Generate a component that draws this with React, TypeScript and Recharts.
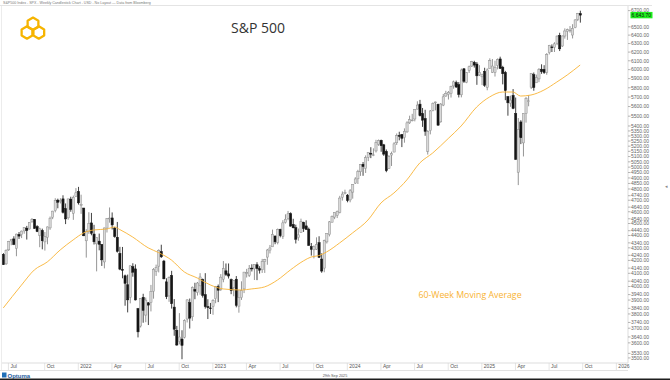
import React from 'react';
import { ComposedChart, Bar, Line, XAxis, YAxis } from 'recharts';

// ---- categories: weekly candles (Monday of each week), plus empty weeks to the right edge
const FIRST_WEEK = '2021-06-14';
const WEEK_COUNT = 242;
const weeks: string[] = Array.from({ length: WEEK_COUNT }, (_, i) =>
  new Date(Date.parse(FIRST_WEEK + 'T00:00:00Z') + i * 7 * 86400000).toISOString().slice(0, 10)
);

// ---- weekly OHLC (S&P 500)
const opens = [
  4248, 4173, 4284, 4356, 4372, 4296, 4409, 4407, 4438, 4461, 4454, 4514, 4535, 4474, 4402, 4442, 4348, 4385, 4463, 4553, 4610, 4701, 4689, 4712, 4628, 4548, 4710, 4587, 4733,
  4778, 4655, 4632, 4357, 4431, 4505, 4412, 4332, 4354, 4327, 4188, 4462, 4541, 4547, 4462, 4386, 4256, 4130, 4081, 4013, 3920, 4151, 4134, 3838, 3715, 3920, 3792, 3880, 3883, 3965, 4113, 4155, 4270, 4195, 4035, 3930, 4084, 3849, 3686, 3609, 3626, 3638, 3764, 3881, 3780, 3978, 3956, 4005, 4052, 3939, 3853, 3843,
  3853, 3910, 3999, 3978, 4055, 4119, 4096, 4052, 3992, 4055, 3856, 3917, 3982, 4103, 4085, 4140, 4134, 4166, 4136, 4127, 4190, 4226, 4282, 4308, 4396, 4344, 4450, 4394, 4508, 4543, 4584, 4492, 4465, 4382, 4426, 4510, 4480, 4453, 4310, 4284, 4289, 4342, 4211, 4140, 4348, 4407, 4511, 4554, 4569, 4594, 4726, 4758,
  4745, 4703, 4772, 4853, 4892, 4957, 5027, 4989, 5093, 5131, 5111, 5154, 5219, 5257, 5213, 5149, 4987, 5114, 5143, 5233, 5305, 5315, 5284, 5341, 5432, 5459, 5471, 5573, 5625, 5528, 5476, 5151, 5353, 5557, 5639, 5624, 5442, 5615, 5711, 5727, 5737, 5820, 5857, 5833, 5724, 6009, 5857, 5992, 6040, 6083, 6063, 5941, 5920,
  5982, 5805, 6014, 5969, 5970, 6047, 6121, 6027, 5968, 5705, 5636, 5718, 5527, 4953, 5441, 5232, 5529, 5655, 5807, 5944, 5854, 5897, 6005, 6004, 5970, 6193, 6260, 6255, 6304, 6395, 6271, 6389, 6445, 6457, 6401, 6490, 6590, 6662,
];
const highs = [
  4257, 4287, 4356, 4372, 4394, 4415, 4429, 4441, 4470, 4480, 4511, 4546, 4536, 4486, 4465, 4457, 4429, 4475, 4559, 4608, 4718, 4714, 4718, 4744, 4672, 4713, 4731, 4741, 4808,
  4819, 4749, 4633, 4453, 4596, 4590, 4489, 4385, 4416, 4330, 4465, 4546, 4637, 4594, 4471, 4513, 4308, 4307, 4090, 4090, 4159, 4178, 4169, 3843, 3914, 3946, 3918, 3886, 4012, 4140, 4167, 4288, 4325, 4204, 4062, 4076, 4119, 3907, 3716, 3806, 3686, 3762, 3906, 3911, 4001, 4028, 4034, 4101, 4060, 4101, 3906, 3879,
  3906, 4004, 4015, 4094, 4195, 4176, 4176, 4060, 4048, 4079, 3975, 4039, 4110, 4134, 4164, 4170, 4170, 4186, 4155, 4212, 4212, 4291, 4323, 4449, 4400, 4458, 4456, 4528, 4578, 4607, 4595, 4540, 4490, 4458, 4541, 4515, 4527, 4466, 4339, 4320, 4385, 4394, 4256, 4366, 4418, 4521, 4568, 4595, 4610, 4739, 4778, 4794,
  4755, 4799, 4842, 4907, 4975, 5030, 5048, 5111, 5140, 5190, 5179, 5262, 5265, 5264, 5222, 5168, 5114, 5147, 5239, 5325, 5342, 5320, 5376, 5448, 5505, 5524, 5570, 5655, 5670, 5585, 5566, 5358, 5563, 5643, 5651, 5630, 5636, 5733, 5767, 5765, 5822, 5878, 5878, 5862, 6012, 6018, 5972, 6045, 6099, 6100, 6086, 6050, 5955,
  6021, 6014, 6128, 6120, 6101, 6127, 6147, 6043, 5986, 5710, 5715, 5786, 5695, 5481, 5459, 5528, 5700, 5720, 5959, 5968, 5944, 6017, 6060, 6050, 6188, 6284, 6290, 6315, 6395, 6428, 6396, 6481, 6478, 6509, 6532, 6593, 6671, 6699,
];
const lows = [
  4165, 4165, 4275, 4321, 4322, 4233, 4372, 4379, 4415, 4367, 4450, 4507, 4457, 4428, 4305, 4288, 4278, 4329, 4447, 4537, 4595, 4630, 4672, 4585, 4495, 4532, 4600, 4531, 4728,
  4662, 4582, 4395, 4222, 4414, 4402, 4327, 4115, 4280, 4157, 4138, 4425, 4507, 4450, 4382, 4262, 4124, 4062, 3859, 3811, 3876, 4074, 3897, 3637, 3705, 3738, 3742, 3722, 3818, 3910, 4080, 4107, 4219, 4055, 3907, 3887, 3838, 3648, 3580, 3590, 3491.58, 3630, 3740, 3698, 3751, 3906, 3933, 3939, 3918, 3838, 3764, 3800,
  3794, 3877, 3885, 3967, 4032, 4079, 4060, 3943, 3928, 3847, 3809, 3901, 3951, 4068, 4072, 4114, 4049, 4048, 4098, 4103, 4103, 4166, 4255, 4307, 4329, 4328, 4385, 4372, 4500, 4528, 4474, 4460, 4335, 4357, 4422, 4430, 4448, 4316, 4238, 4216, 4283, 4220, 4104, 4108, 4335, 4393, 4510, 4537, 4546, 4586, 4697, 4752,
  4682, 4682, 4714, 4845, 4845, 4919, 4920, 4946, 5057, 5085, 5104, 5139, 5203, 5146, 5107, 4953, 4984, 5011, 5142, 5212, 5257, 5191, 5234, 5331, 5420, 5447, 5447, 5570, 5497, 5391, 5302, 5119, 5316, 5550, 5560, 5402, 5434, 5604, 5703, 5674, 5695, 5790, 5798, 5696, 5697, 5853, 5850, 5963, 6031, 6023, 5832, 5929, 5829,
  5810, 5773, 6013, 5962, 5923, 6003, 6009, 5837, 5667, 5505, 5597, 5572, 5069, 4835, 5220, 5101, 5434, 5603, 5786, 5768, 5853, 5861, 5953, 5952, 5943, 6173, 6201, 6201, 6281, 6212, 6259, 6358, 6343, 6430, 6360, 6483, 6570, 6551,
];
const closes = [
  4166.45, 4280.7, 4352.34, 4369.55, 4327.16, 4411.79, 4395.26, 4436.52, 4468.0, 4441.67, 4509.37, 4535.43, 4458.58, 4432.99, 4455.48, 4357.04, 4391.34, 4471.37, 4544.9, 4605.38, 4697.53, 4682.85, 4697.96, 4594.62, 4538.43, 4712.02, 4620.64, 4725.79, 4766.18,
  4677.03, 4662.85, 4397.94, 4431.85, 4500.53, 4418.64, 4348.87, 4384.65, 4328.87, 4204.31, 4463.12, 4543.06, 4545.86, 4488.28, 4392.59, 4271.78, 4131.93, 4123.34, 4023.89, 3901.36, 4158.24, 4108.54, 3900.86, 3674.84, 3911.74, 3825.33, 3899.38, 3863.16, 3961.63, 4130.29, 4145.19, 4280.15, 4228.48, 4057.66, 3924.26, 4067.36, 3873.33, 3693.23, 3585.62, 3639.66, 3583.07, 3752.75, 3901.06, 3770.55, 3992.93, 3965.34, 4026.12, 4071.7, 3934.38, 3852.36, 3844.82, 3839.5,
  3895.08, 3999.09, 3972.61, 4070.56, 4136.48, 4090.46, 4079.09, 3970.04, 4045.64, 3861.59, 3916.64, 3970.99, 4109.31, 4105.02, 4137.64, 4133.52, 4169.48, 4136.25, 4124.08, 4191.98, 4205.45, 4282.37, 4298.86, 4409.59, 4348.33, 4450.38, 4398.95, 4505.42, 4536.34, 4582.23, 4478.03, 4464.05, 4369.71, 4405.71, 4515.77, 4457.49, 4450.32, 4320.06, 4288.05, 4308.5, 4327.78, 4224.16, 4117.37, 4358.34, 4415.24, 4514.02, 4559.34, 4594.63, 4604.37, 4719.19, 4754.63, 4769.83,
  4697.24, 4783.83, 4839.81, 4890.97, 4958.61, 5026.61, 5005.57, 5088.8, 5137.08, 5123.69, 5117.09, 5234.18, 5254.35, 5204.34, 5123.41, 4967.23, 5099.96, 5127.79, 5222.68, 5303.27, 5304.72, 5277.51, 5346.99, 5431.6, 5464.62, 5460.48, 5567.19, 5615.35, 5505.0, 5459.1, 5346.56, 5344.16, 5554.25, 5634.61, 5648.4, 5408.42, 5626.02, 5702.55, 5738.17, 5751.07, 5815.03, 5864.67, 5808.12, 5728.8, 5995.54, 5870.62, 5969.34, 6032.38, 6090.27, 6051.09, 5930.85, 5970.84, 5942.47,
  5827.04, 5996.66, 6101.24, 6040.53, 6025.99, 6114.63, 6013.13, 5954.5, 5770.2, 5638.94, 5667.56, 5580.94, 5074.08, 5363.36, 5282.7, 5525.21, 5686.67, 5659.91, 5958.38, 5802.82, 5911.69, 6000.36, 5976.97, 5967.84, 6173.07, 6279.35, 6259.75, 6296.79, 6388.64, 6238.01, 6389.45, 6449.8, 6466.91, 6460.26, 6481.5, 6584.29, 6664.36, 6643.7,
];

// ---- 60-week moving average at these weeks
const maWeeks = [
  '2021-06-14', '2021-08-02', '2021-09-06', '2021-10-11', '2021-11-15', '2021-12-20', '2022-01-17', '2022-02-14', '2022-03-21', '2022-04-11', '2022-04-25', '2022-05-30',
  '2022-07-11', '2022-08-08', '2022-09-12', '2022-10-17', '2022-11-21', '2022-12-26', '2023-01-30', '2023-03-20', '2023-04-17', '2023-05-22', '2023-06-26', '2023-07-31',
  '2023-09-04', '2023-09-25', '2023-10-16', '2023-11-06', '2023-12-11', '2024-01-15', '2024-02-26', '2024-04-01', '2024-05-06', '2024-06-10', '2024-07-15', '2024-08-19',
  '2024-09-30', '2024-11-04', '2024-12-16', '2025-01-20', '2025-02-24', '2025-03-24', '2025-04-14', '2025-05-12', '2025-06-16', '2025-07-21', '2025-08-18', '2025-09-22',
];
const maValues = [
  3843, 4010, 4126, 4188, 4283, 4364, 4421, 4446, 4454, 4471, 4450, 4388,
  4300, 4262, 4203, 4110, 4064, 4012, 3982, 3974, 3982, 3997, 4049, 4126,
  4196, 4227, 4238, 4267, 4339, 4421, 4530, 4676, 4764, 4882, 5039, 5134,
  5275, 5400, 5595, 5701, 5754, 5754, 5711, 5722, 5775, 5863, 5940, 6052,
];

// ---- axis ticks
const LAST_PRICE = 6643.7;
const yTicks = [
  6700, 6500, 6400, 6300, 6200, 6100, 6000, 5900, 5800, 5700, 5600, 5500, 5400, 5350, 5300, 5250, 5200, 5150, 5100, 5050, 5000,
  4950, 4900, 4850, 4800, 4740, 4700, 4640, 4600, 4540, 4500, 4440, 4400, 4340, 4300, 4240, 4200, 4140, 4100, 4040, 4000,
  3940, 3900, 3840, 3800, 3740, 3700, 3640, 3600, 3530, 3500, LAST_PRICE,
];
const xTickWeeks = [
  '2021-06-28', '2021-10-04', '2022-01-03', '2022-04-04', '2022-07-04', '2022-10-03', '2023-01-02', '2023-04-03', '2023-07-03', '2023-10-02',
  '2024-01-01', '2024-04-01', '2024-07-01', '2024-09-30', '2024-12-30', '2025-03-31', '2025-06-30', '2025-09-29', '2025-12-29',
];
const xTickLabels = ['Jul', 'Oct', '2022', 'Apr', 'Jul', 'Oct', '2023', 'Apr', 'Jul', 'Oct', '2024', 'Apr', 'Jul', 'Oct', '2025', 'Apr', 'Jul', 'Oct', '2026'];

const data = weeks.map((week, i) => {
  const has = i < closes.length;
  const k = maWeeks.indexOf(week);
  return {
    week,
    open: has ? opens[i] : null,
    high: has ? highs[i] : null,
    low: has ? lows[i] : null,
    close: has ? closes[i] : null,
    range: has ? [lows[i], highs[i]] : null,
    ma: k >= 0 ? maValues[k] : null,
  };
});

const MA_COLOR = '#f8b334';
const SMALL_FONT = '"Liberation Sans", Arial, sans-serif';

const Candle = (props: any) => {
  const { x, y, width, height, payload } = props;
  if (!payload || payload.close == null || !isFinite(y) || !isFinite(height)) return <g />;
  const { open, close, high, low } = payload;
  const cx = x + width / 2;
  const lh = Math.log(high);
  const ll = Math.log(low);
  const toY = (v: number) => y + ((lh - Math.log(v)) / (lh - ll)) * height;
  const yo = toY(open);
  const yc = toY(close);
  const up = close >= open;
  const top = Math.min(yo, yc);
  const bh = Math.max(Math.abs(yc - yo), 0.8);
  return (
    <g>
      <line x1={cx} x2={cx} y1={y} y2={y + height} stroke={up ? '#7a7a7a' : '#111'} strokeWidth={0.8} />
      <rect x={cx - 1.1} y={top} width={2.2} height={bh} fill={up ? '#d9d9d9' : '#151515'} stroke={up ? '#8c8c8c' : '#151515'} strokeWidth={0.5} />
    </g>
  );
};

const XTick = (p: any) => {
  const idx = xTickWeeks.indexOf(p.payload && p.payload.value);
  if (idx < 0) return <g />;
  return (
    <g>
      <line x1={p.x} x2={p.x} y1={p.y} y2={p.y + 7} stroke="#d4d4d4" strokeWidth={0.6} />
      <text x={p.x + 2} y={p.y + 5.4} fontSize={5} fill="#555" fontFamily={SMALL_FONT}>
        {xTickLabels[idx]}
      </text>
    </g>
  );
};

const YTick = (p: any) => {
  const v = p.payload && p.payload.value;
  if (v == null) return <g />;
  if (v === LAST_PRICE) {
    return (
      <g>
        <rect x={p.x + 2.5} y={p.y - 3.2} width={22} height={6.4} fill="#1ef01e" />
        <text x={p.x + 3.5} y={p.y} dy="0.35em" fontSize={5} fill="#111" fontFamily={SMALL_FONT}>
          {v.toLocaleString('en-US', { minimumFractionDigits: 2, maximumFractionDigits: 2 })}
        </text>
      </g>
    );
  }
  return (
    <g>
      <line x1={p.x} x2={p.x + 2.5} y1={p.y} y2={p.y} stroke="#888" strokeWidth={0.6} />
      <text x={p.x + 3} y={p.y} dy="0.35em" fontSize={5} fill="#666" fontFamily={SMALL_FONT}>
        {v.toFixed(2)}
      </text>
    </g>
  );
};

const hexPoints = (cx: number, cy: number, r: number) =>
  [0, 1, 2, 3, 4, 5]
    .map((k) => {
      const a = (Math.PI / 3) * k;
      return `${cx + r * Math.sin(a)},${cy - r * Math.cos(a)}`;
    })
    .join(' ');

export default function App() {
  return (
    <div style={{ position: 'absolute', left: 0, top: 0, width: 670, height: 380, background: '#fff', overflow: 'hidden' }}>
      <ComposedChart width={670} height={380} data={data} margin={{ top: 6, right: 0, bottom: 10, left: 2 }} barCategoryGap={0}>
        <XAxis
          dataKey="week"
          interval={0}
          height={7}
          tickSize={0}
          tickMargin={0}
          tickLine={false}
          axisLine={{ stroke: '#dddddd' }}
          tick={(p: any) => <XTick {...p} />}
        />
        <YAxis
          orientation="right"
          width={42}
          type="number"
          scale="log"
          domain={[3467, 6758]}
          allowDataOverflow
          ticks={yTicks}
          interval={0}
          tickSize={0}
          tickMargin={0}
          tickLine={false}
          axisLine={{ stroke: '#dddddd' }}
          tick={(p: any) => <YTick {...p} />}
        />
        <Bar dataKey="range" isAnimationActive={false} shape={(p: any) => <Candle {...p} />} />
        <Line dataKey="ma" type="monotone" stroke={MA_COLOR} strokeWidth={0.9} dot={false} connectNulls isAnimationActive={false} />
      </ComposedChart>
      <svg width={670} height={380} style={{ position: 'absolute', left: 0, top: 0, pointerEvents: 'none' }}>
        <text x={3} y={3.8} fontSize={3.6} fill="#777" fontFamily={SMALL_FONT}>
          S&amp;P500 Index - SPX - Weekly Candlestick Chart - USD - No Layout — Data from Bloomberg
        </text>
        <line x1={0} x2={652} y1={5.5} y2={5.5} stroke="#e4e4e4" strokeWidth={1} />
        <line x1={1.5} x2={1.5} y1={6} y2={370} stroke="#ececec" strokeWidth={1} />
        <line x1={0} x2={628} y1={370.5} y2={370.5} stroke="#e2e2e2" strokeWidth={1} />
        <g fill="none" stroke="#f6b400" strokeWidth={2.3} strokeLinejoin="round">
          <polygon points={hexPoints(27, 32.5, 6.2)} />
          <polygon points={hexPoints(38.8, 32.5, 6.2)} />
          <polygon points={hexPoints(33, 23.8, 6.2)} />
        </g>
        <text x={258} y={33} textAnchor="middle" fontSize={14} fill="#333" fontFamily='"Open Sans", sans-serif'>
          S&amp;P 500
        </text>
        <text x={470} y={297.5} textAnchor="middle" fontSize={8.8} fill={MA_COLOR} fontFamily='"Open Sans", sans-serif'>
          60-Week Moving Average
        </text>
        <text x={666} y={188} textAnchor="middle" fontSize={5} fill="#888" fontFamily={SMALL_FONT}>◂</text>
        <rect x={2} y={372.5} width={4.5} height={5} fill="#1f6fb8" />
        <text x={7.5} y={377.5} fontSize={6} fontWeight="bold" fill="#1f5d9e" fontFamily={SMALL_FONT}>Optuma</text>
        <text x={335} y={377} textAnchor="middle" fontSize={3.8} fill="#555" fontFamily={SMALL_FONT}>29th Sep 2025</text>
        <rect x={0} y={378.5} width={670} height={2} fill="#1e1e1e" />
      </svg>
    </div>
  );
}
